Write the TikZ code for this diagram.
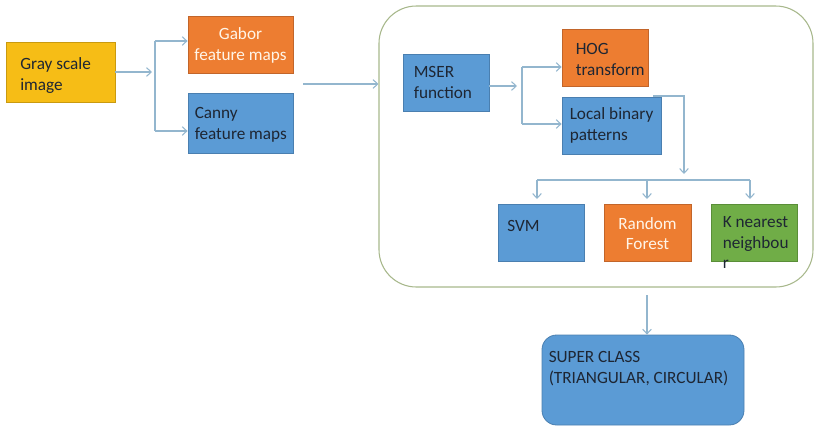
\documentclass[tikz,border=0pt]{standalone}
\usepackage{fontspec}
\setmainfont{Carlito}
\usetikzlibrary{arrows.meta}
\definecolor{cgold}{HTML}{F6BD16}
\definecolor{cgoldd}{HTML}{C99A10}
\definecolor{corange}{HTML}{ED7D31}
\definecolor{coranged}{HTML}{C2652A}
\definecolor{cblue}{HTML}{5B9BD5}
\definecolor{cblued}{HTML}{4A7FB0}
\definecolor{cgreen}{HTML}{70AD47}
\definecolor{cgreend}{HTML}{5A8E38}
\definecolor{cconn}{HTML}{93B6CE}
\definecolor{cpanel}{HTML}{A8B88C}
\definecolor{cdark}{HTML}{1E2633}
\definecolor{clight}{HTML}{FFF5E8}
\tikzset{
  wh/.style 2 args={minimum width=#1*0.75pt, minimum height=#2*0.75pt},
  boxshape/.style={rectangle, inner sep=0pt, line width=0.6pt},
  goldbox/.style={boxshape, fill=cgold, draw=cgoldd},
  orangebox/.style={boxshape, fill=corange, draw=coranged},
  bluebox/.style={boxshape, fill=cblue, draw=cblued},
  greenbox/.style={boxshape, fill=cgreen, draw=cgreend},
  txt/.style={inner sep=0pt, align=left, anchor=west, text=cdark,
    font=\fontsize{12.9}{15.6}\selectfont},
  wtxt/.style={inner sep=0pt, align=center, text=clight,
    font=\fontsize{12.9}{15.6}\selectfont},
  conn/.style={draw=cconn, line width=0.8pt},
  arr/.style={conn, -{Straight Barb[length=3.5pt, width=6.5pt]}},
}
\begin{document}
\begin{tikzpicture}[x=0.75pt,y=-0.75pt]
\useasboundingbox (0,0) rectangle (815,426);
% container panel
\node[rectangle, draw=cpanel, line width=0.8pt, rounded corners=28pt, wh={434}{281}] (panel) at (596,146.5) {};
% boxes
\node[goldbox, wh={109}{60}] (gray) at (60.5,72) {};
\node[txt] (grayt) at (20,75.5) {Gray scale\\image};
\node[orangebox, wh={105}{57}] (gabor) at (240.5,44.5) {};
\node[wtxt] (gabort) at (240.5,45.5) {Gabor\\feature maps};
\node[bluebox, wh={105}{60}] (canny) at (240.5,123) {};
\node[txt] (cannyt) at (194.5,125) {Canny\\feature maps};
\node[bluebox, wh={86}{57}] (mser) at (446,82.5) {};
\node[txt] (msert) at (413.5,82.5) {MSER\\function};
\node[orangebox, wh={86}{57}] (hog) at (605,57.5) {};
\node[txt] (hogt) at (575.5,59.5) {HOG\\transform};
\node[bluebox, wh={99}{57}] (lbp) at (611.5,125.5) {};
\node[txt] (lbpt) at (569.5,125.5) {Local binary\\patterns};
\node[bluebox, wh={86}{57}] (svm) at (541,232.5) {};
\node[txt] (svmt) at (507,226) {SVM};
\node[orangebox, wh={87}{57}] (rf) at (647.5,232.5) {};
\node[wtxt] (rft) at (647.5,233.5) {Random\\Forest};
\node[greenbox, wh={86}{57}] (knn) at (754,232.5) {};
\node[txt] (knnt) at (722.5,242.5) {K nearest\\neighbou\\r};
\node[bluebox, rounded corners=11pt, wh={202}{90}] (super) at (643,380) {};
\node[txt] (supert) at (548.5,369) {SUPER CLASS\\(TRIANGULAR, CIRCULAR)};
% connectors: first stage
\coordinate (j1) at (152,72);
\coordinate (b1t) at (155,41);
\coordinate (b1b) at (155,131);
\draw[arr] (gray.east |- j1) -- (j1);
\draw[conn] (b1t) -- (b1b);
\draw[arr] (b1t) -- (b1t -| gabor.west);
\draw[arr] (b1b) -- (b1b -| canny.west);
\coordinate (a2) at (303,84);
\draw[arr] (a2) -- (a2 -| panel.west);
% inside panel
\coordinate (j2s) at (489,86);
\coordinate (j2) at (517,86);
\coordinate (b2t) at (522,67);
\coordinate (b2b) at (522,124);
\draw[arr] (j2s) -- (j2);
\draw[conn] (b2t) -- (b2b);
\draw[arr] (b2t) -- (b2t -| hog.west);
\draw[arr] (b2b) -- (b2b -| lbp.west);
\coordinate (l1) at (653,96);
\coordinate (l2) at (684,96);
\coordinate (l3) at (684,174);
\draw[arr] (l1) -- (l2) -- (l3);
\coordinate (busl) at (537,180);
\coordinate (busm) at (647,180);
\coordinate (busr) at (750,180);
\draw[conn] (busl) -- (busr);
\draw[arr] (busl) -- (537,199);
\draw[arr] (busm) -- (647,199);
\draw[arr] (busr) -- (750,199);
% to super class
\coordinate (s1) at (647,295);
\draw[arr] (s1) -- (s1 |- super.north);
\end{tikzpicture}
\end{document}
